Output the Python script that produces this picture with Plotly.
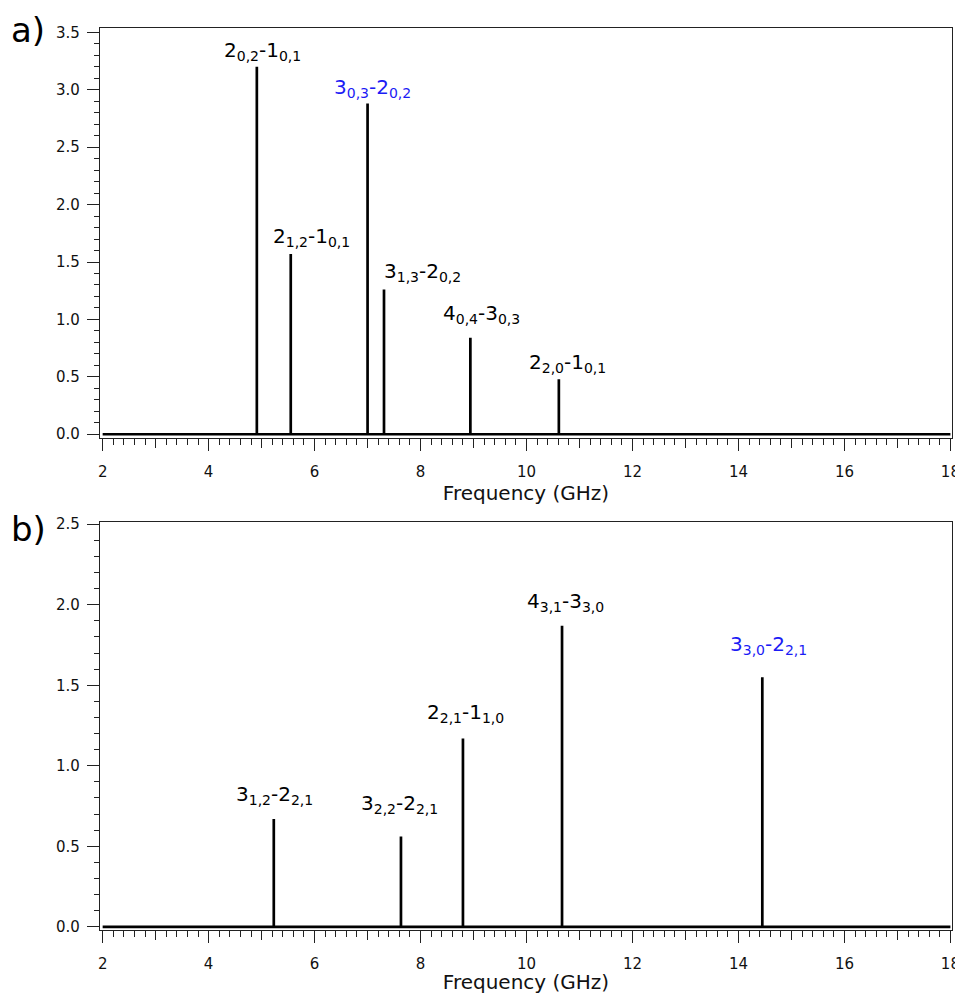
import plotly.graph_objects as go

# ---- data ----
freq_a = [4.91, 5.55, 7.00, 7.31, 8.94, 10.61]
int_a = [3.20, 1.57, 2.88, 1.26, 0.84, 0.48]
labels_a = ["2<sub>0,2</sub>-1<sub>0,1</sub>", "2<sub>1,2</sub>-1<sub>0,1</sub>",
            "3<sub>0,3</sub>-2<sub>0,2</sub>", "3<sub>1,3</sub>-2<sub>0,2</sub>",
            "4<sub>0,4</sub>-3<sub>0,3</sub>", "2<sub>2,0</sub>-1<sub>0,1</sub>"]
label_colors_a = ["black", "black", "blue", "black", "black", "black"]

freq_b = [5.23, 7.63, 8.80, 10.67, 14.45]
int_b = [0.67, 0.56, 1.17, 1.87, 1.55]
labels_b = ["3<sub>1,2</sub>-2<sub>2,1</sub>", "3<sub>2,2</sub>-2<sub>2,1</sub>",
            "2<sub>2,1</sub>-1<sub>1,0</sub>", "4<sub>3,1</sub>-3<sub>3,0</sub>",
            "3<sub>3,0</sub>-2<sub>2,1</sub>"]
label_colors_b = ["black", "black", "black", "black", "blue"]

freq_min, freq_max = 2, 18
x_ticks = [2, 4, 6, 8, 10, 12, 14, 16, 18]
x_mid_ticks = [3, 5, 7, 9, 11, 13, 15, 17]
ya_ticks = [0.0, 0.5, 1.0, 1.5, 2.0, 2.5, 3.0, 3.5]
yb_ticks = [0.0, 0.5, 1.0, 1.5, 2.0, 2.5]

# label placement offsets (pixels) -- styling only
label_dx_a = [6, 21, 5, 38, 11, 9]
label_dy_a = [1, 2, 1, 3, 9, 1]
label_dx_b = [1, -1, 3, 3, 6]
label_dy_b = [9, 18, 10, 9, 17]

BLUE = "#1c1cf5"
FONT = "DejaVu Sans"


def stick_xy(freqs, ints):
    xs, ys = [freq_min], [0]
    for f, h in sorted(zip(freqs, ints)):
        xs += [f, f, f]
        ys += [0, h, 0]
    xs.append(freq_max)
    ys.append(0)
    return xs, ys


fig = go.Figure()
xa, ya = stick_xy(freq_a, int_a)
xb, yb = stick_xy(freq_b, int_b)
fig.add_trace(go.Scatter(x=xa, y=ya, mode="lines", line=dict(color="black", width=2.7),
                         xaxis="x", yaxis="y", hoverinfo="skip", showlegend=False))
fig.add_trace(go.Scatter(x=xb, y=yb, mode="lines", line=dict(color="black", width=2.7),
                         xaxis="x2", yaxis="y2", hoverinfo="skip", showlegend=False))
# invisible traces for medium-tick overlay axes
fig.add_trace(go.Scatter(x=[freq_min], y=[0], mode="markers", marker=dict(opacity=0),
                         xaxis="x3", yaxis="y", hoverinfo="skip", showlegend=False))
fig.add_trace(go.Scatter(x=[freq_min], y=[0], mode="markers", marker=dict(opacity=0),
                         xaxis="x4", yaxis="y2", hoverinfo="skip", showlegend=False))

xrange = [1.95, 18.03]
axis_common = dict(showline=True, linecolor="#222", linewidth=1.2, mirror=True,
                   ticks="outside", tickcolor="#222", tickwidth=1.2, showgrid=False,
                   zeroline=False, automargin=False,
                   tickfont=dict(family=FONT, size=15, color="#111"))

xcommon = dict(axis_common, range=xrange, tickvals=x_ticks, ticklen=12, ticklabelstandoff=8,
               ticklabeloverflow="allow",
               minor=dict(dtick=0.2, tick0=0, ticks="outside", ticklen=6, tickcolor="#222",
                          tickwidth=1.2, showgrid=False),
               title=dict(text="Frequency (GHz)", font=dict(family=FONT, size=20, color="#111"),
                          standoff=4))
midcommon = dict(range=xrange, tickvals=x_mid_ticks, ticks="outside", ticklen=9,
                 tickcolor="#222", tickwidth=1.2, showticklabels=False, showgrid=False,
                 zeroline=False, showline=False)

ycommon = dict(axis_common, ticklen=12, ticklabelstandoff=4,
               minor=dict(dtick=0.1, tick0=0, ticks="outside", ticklen=5, tickcolor="#222",
                          tickwidth=1.2, showgrid=False),
               tickformat=".1f")

# page body has an 8px margin: figure is offset by (8, 8)
fig.update_layout(
    width=955, height=986,
    margin=dict(l=92, r=11, t=20, b=64),
    plot_bgcolor="white", paper_bgcolor="white",
    xaxis=dict(xcommon, anchor="y", domain=[0, 1]),
    yaxis=dict(ycommon, range=[-0.03, 3.538], tickvals=ya_ticks, domain=[0.5458, 1.0], anchor="x"),
    xaxis2=dict(xcommon, anchor="y2", domain=[0, 1]),
    yaxis2=dict(ycommon, range=[-0.02, 2.516], tickvals=yb_ticks, domain=[0.0, 0.4527], anchor="x2"),
    xaxis3=dict(midcommon, overlaying="x", anchor="y", side="bottom"),
    xaxis4=dict(midcommon, overlaying="x2", anchor="y2", side="bottom"),
)

annotations = []
for f, h, t, c, dx, dy in zip(freq_a, int_a, labels_a, label_colors_a, label_dx_a, label_dy_a):
    annotations.append(dict(x=f, y=h, xref="x", yref="y", text=t, showarrow=False,
                            xanchor="center", yanchor="bottom", xshift=dx, yshift=dy,
                            font=dict(family=FONT, size=20, color=BLUE if c == "blue" else "black")))
for f, h, t, c, dx, dy in zip(freq_b, int_b, labels_b, label_colors_b, label_dx_b, label_dy_b):
    annotations.append(dict(x=f, y=h, xref="x2", yref="y2", text=t, showarrow=False,
                            xanchor="center", yanchor="bottom", xshift=dx, yshift=dy,
                            font=dict(family=FONT, size=20, color=BLUE if c == "blue" else "black")))
annotations.append(dict(x=-0.107, y=0.998, xref="paper", yref="paper", text="a)", showarrow=False,
                        xanchor="left", yanchor="middle", font=dict(family=FONT, size=34, color="black")))
annotations.append(dict(x=-0.107, y=0.445, xref="paper", yref="paper", text="b)", showarrow=False,
                        xanchor="left", yanchor="middle", font=dict(family=FONT, size=34, color="black")))
fig.update_layout(annotations=annotations)

fig.write_html("out.html")
